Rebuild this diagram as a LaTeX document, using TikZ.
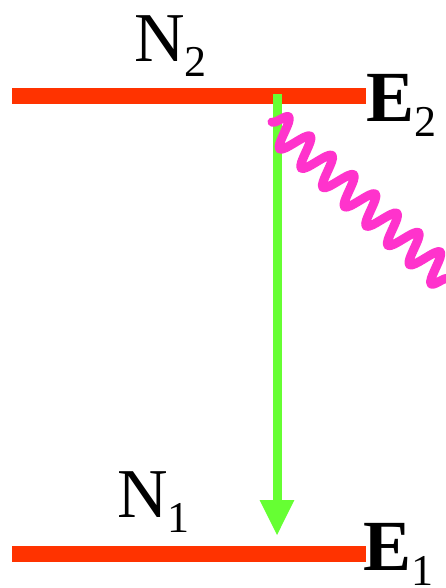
\documentclass[tikz,border=0pt]{standalone}
\usepackage{fontspec}
\setmainfont{Liberation Serif}
\usetikzlibrary{arrows.meta, decorations.pathmorphing}

\definecolor{levelred}{HTML}{FF3300}
\definecolor{transgreen}{HTML}{66FF33}
\definecolor{photonpink}{HTML}{FF33CC}
\newcommand{\lsub}[1]{\raisebox{-15pt}{\normalfont\fontsize{44}{44}\selectfont #1}}

\begin{document}
\begin{tikzpicture}[
  x=1pt, y=-1pt,
  level/.style={levelred, line width=16pt},
  trans/.style={-{Triangle[width=32pt,length=36pt]}, transgreen, line width=9pt},
  photon/.style={
    photonpink, line width=9pt, line cap=round, line join=round,
    decorate, decoration={snake, segment length=29pt, amplitude=15pt}
  },
  pop/.style={anchor=base west, inner sep=0pt, font=\fontsize{70}{70}\selectfont},
  energy/.style={anchor=base west, inner sep=0pt, font=\fontsize{72}{72}\selectfont\bfseries}
]
\useasboundingbox (0,0) rectangle (445,588);

%% Levels
\coordinate (e2l) at (12,96);
\coordinate (e2r) at (366,96);
\coordinate (e1l) at (12,554);
\coordinate (e1r) at (366,554);
\draw[level] (e2l) -- (e2r);
\draw[level] (e1l) -- (e1r);

%% Labels
\node[pop] (n2) at (134,62) {N\lsub{2}};
\node[pop] (n1) at (117,517) {N\lsub{1}};
\node[energy] (e2) at (366,122) {E\lsub{2}};
\node[energy] (e1) at (363,570) {E\lsub{1}};

%% Transition
\coordinate (up) at (277,94);
\coordinate (down) at (277,536);
\draw[trans] (up) -- (down);

%% Photon
\coordinate (wstart) at (272,122);
\coordinate (wend) at (456,286);
\draw[photon] (wstart) -- (wend);

\end{tikzpicture}
\end{document}
